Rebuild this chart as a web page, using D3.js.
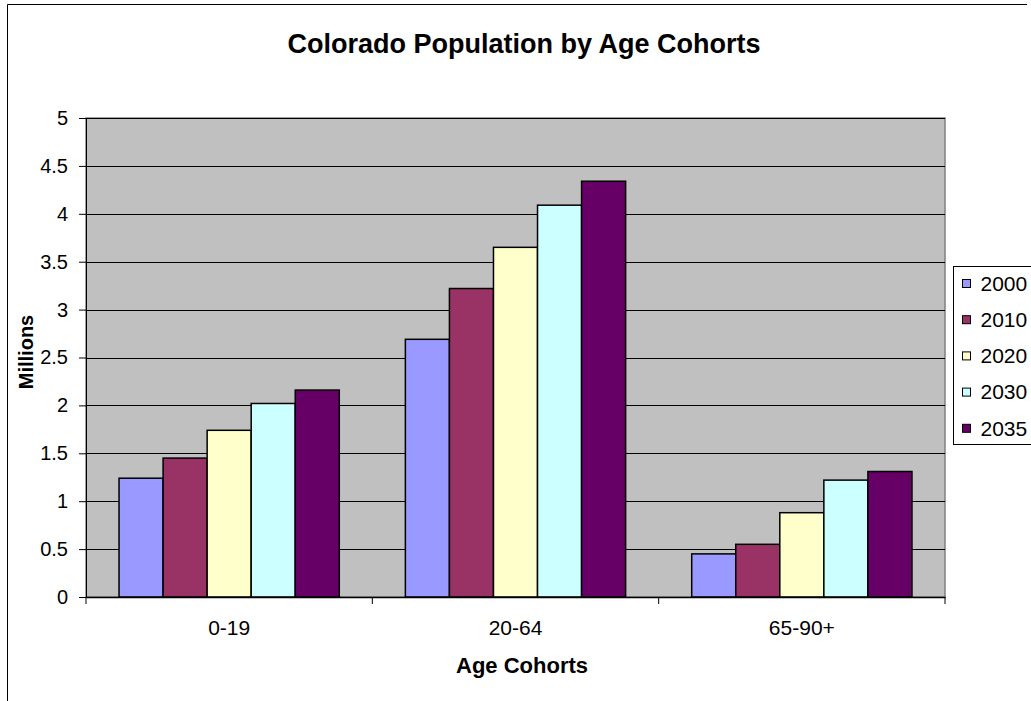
<!DOCTYPE html>
<html>
<head>
<meta charset="utf-8">
<script src="https://cdn.jsdelivr.net/npm/d3@7"></script>
<style>
  body { margin: 0; background: #fff; }
  svg { display: block; }
  svg text { font-family: "Liberation Sans", Arial, sans-serif; }
</style>
</head>
<body>
<div id="chart"></div>
<script>
// categories and series (millions)
const cohorts = ['0-19', '20-64', '65-90+'];
const years = ['2000', '2010', '2020', '2030', '2035'];
const v2000 = [1.24, 2.69, 0.45];
const v2010 = [1.45, 3.22, 0.55];
const v2020 = [1.74, 3.65, 0.88];
const v2030 = [2.02, 4.09, 1.22];
const v2035 = [2.16, 4.34, 1.31];
const yTicks = [0, 0.5, 1, 1.5, 2, 2.5, 3, 3.5, 4, 4.5, 5];

const series = [v2000, v2010, v2020, v2030, v2035];
const colors = ['#9999FF', '#993366', '#FFFFCC', '#CCFFFF', '#660066'];

let width = 1031, height = 701;
let plot = { left: 86, right: 945, top: 118, bottom: 597 };

let svg = d3.select('#chart').append('svg')
    .attr('width', width)
    .attr('height', height);

// outer chart frame
svg.append('path')
    .attr('d', 'M7.5,' + (height + 5) + 'V4.5H1027')
    .style('fill', 'none')
    .style('stroke', '#000')
    .style('stroke-width', 1);

let x0 = d3.scaleBand()
    .domain(cohorts)
    .range([plot.left, plot.right]);

let barW = x0.bandwidth() / 6.5;   // gap width 150%
let x1 = d3.scaleBand()
    .domain(years)
    .range([0.75 * barW, x0.bandwidth() - 0.75 * barW]);

let y = d3.scaleLinear()
    .domain([0, 5])
    .range([plot.bottom, plot.top]);

// plot background
svg.append('rect')
    .attr('x', plot.left)
    .attr('y', plot.top)
    .attr('width', plot.right - plot.left)
    .attr('height', plot.bottom - plot.top)
    .style('fill', '#C0C0C0')
    .style('stroke', '#808080')
    .style('stroke-width', 1.5);

// gridlines
svg.append('g').selectAll('line')
    .data(yTicks.filter(d => d > 0))
    .enter().append('line')
    .attr('x1', plot.left)
    .attr('x2', plot.right)
    .attr('y1', d => Math.round(y(d)) + 0.5)
    .attr('y2', d => Math.round(y(d)) + 0.5)
    .style('stroke', '#000')
    .style('stroke-width', 1);

// bars
let group = svg.append('g').selectAll('g')
    .data(cohorts)
    .enter().append('g')
    .attr('transform', d => 'translate(' + x0(d) + ',0)');

group.selectAll('rect')
    .data((d, i) => years.map((yr, j) => ({ year: yr, value: series[j][i], idx: j })))
    .enter().append('rect')
    .attr('x', d => x1(d.year))
    .attr('y', d => y(d.value))
    .attr('width', x1.bandwidth())
    .attr('height', d => y(0) - y(d.value))
    .style('fill', d => colors[d.idx])
    .style('stroke', '#000')
    .style('stroke-width', 1.5);

// y axis
let yAxis = d3.axisLeft(y)
    .tickValues(yTicks)
    .tickSize(7)
    .tickPadding(11)
    .tickFormat(d => d);

let yG = svg.append('g')
    .attr('transform', 'translate(' + plot.left + ',0)')
    .call(yAxis);
yG.attr('font-family', null);
yG.select('.domain').style('stroke', '#000');
yG.selectAll('text').style('font-size', '20px').style('fill', '#000');

// x axis
let xAxis = d3.axisBottom(x0).tickSize(0).tickPadding(23);
let xG = svg.append('g')
    .attr('transform', 'translate(0,' + plot.bottom + ')')
    .call(xAxis);
xG.attr('font-family', null);
xG.select('.domain').style('stroke', '#000').style('stroke-width', 1.5);
xG.selectAll('text').style('font-size', '21px').style('fill', '#000');

// category separator ticks
svg.append('g').selectAll('line')
    .data(cohorts.map(c => x0(c)).concat([plot.right]))
    .enter().append('line')
    .attr('x1', d => d)
    .attr('x2', d => d)
    .attr('y1', plot.bottom)
    .attr('y2', plot.bottom + 7)
    .style('stroke', '#000');

// titles
svg.append('text')
    .attr('x', 524)
    .attr('y', 53)
    .attr('text-anchor', 'middle')
    .style('font-size', '27px')
    .style('font-weight', 'bold')
    .text('Colorado Population by Age Cohorts');

svg.append('text')
    .attr('x', 522)
    .attr('y', 673)
    .attr('text-anchor', 'middle')
    .style('font-size', '22px')
    .style('font-weight', 'bold')
    .text('Age Cohorts');

svg.append('text')
    .attr('transform', 'translate(33,352) rotate(-90)')
    .attr('text-anchor', 'middle')
    .style('font-size', '20px')
    .style('font-weight', 'bold')
    .text('Millions');

// legend
let legend = svg.append('g').attr('transform', 'translate(953.5,266.5)');
legend.append('rect')
    .attr('width', 90)
    .attr('height', 178)
    .style('fill', '#fff')
    .style('stroke', '#000');

let item = legend.selectAll('.item')
    .data(years)
    .enter().append('g')
    .attr('class', 'item')
    .attr('transform', (d, i) => 'translate(0,' + (17 + i * 36.2) + ')');

item.append('rect')
    .attr('x', 9)
    .attr('y', -4)
    .attr('width', 8)
    .attr('height', 8)
    .style('fill', (d, i) => colors[i])
    .style('stroke', '#000');

item.append('text')
    .attr('x', 27)
    .attr('dy', '0.35em')
    .style('font-size', '21px')
    .text(d => d);
</script>
</body>
</html>
